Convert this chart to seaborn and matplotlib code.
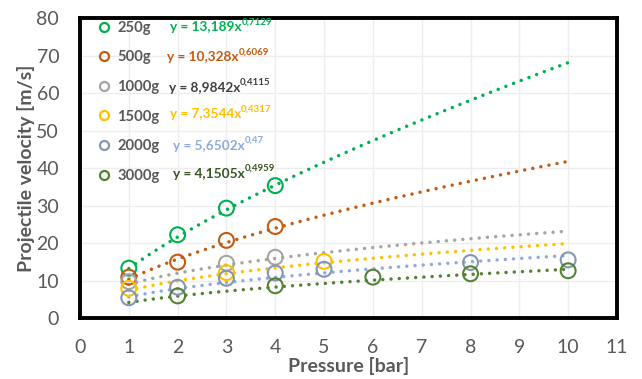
import numpy as np
import pandas as pd
import matplotlib
matplotlib.use("Agg")
import matplotlib.pyplot as plt
from matplotlib.lines import Line2D
import seaborn as sns

# ---- data ----
masses = ["250g", "500g", "1000g", "1500g", "2000g", "3000g"]
p_250 = [1, 2, 3, 4];            v_250 = [13.3, 22.2, 29.3, 35.3]
p_500 = [1, 2, 3, 4];            v_500 = [10.9, 14.9, 20.7, 24.4]
p_1000 = [1, 3, 4];              v_1000 = [9.7, 14.6, 16.2]
p_1500 = [1, 3, 5];              v_1500 = [7.9, 12.1, 15.1]
p_2000 = [1, 2, 3, 4, 5, 8, 10]; v_2000 = [5.4, 8.2, 10.6, 12.0, 13.0, 14.8, 15.5]
p_3000 = [2, 4, 6, 8, 10];       v_3000 = [5.9, 8.6, 10.9, 11.8, 12.6]
coef_a = [13.189, 10.328, 8.9842, 7.3544, 5.6502, 4.1505]
coef_b = [0.7129, 0.6069, 0.4115, 0.4317, 0.47, 0.4959]
eq_main = ["y = 13,189x", "y = 10,328x", "y = 8,9842x", "y = 7,3544x", "y = 5,6502x", "y = 4,1505x"]
eq_exp = ["0,7129", "0,6069", "0,4115", "0,4317", "0,47", "0,4959"]
x_ticks = list(range(0, 12))
y_ticks = list(range(0, 90, 10))

marker_colors = ["#00B050", "#C55A11", "#A5A5A5", "#FFC000", "#8497B0", "#548235"]
line_colors = ["#00B050", "#C55A11", "#A5A5A5", "#FFC000", "#8FAADC", "#548235"]
eq_colors = ["#00B050", "#C55A11", "#404040", "#FFC000", "#8FAADC", "#375623"]

pts = pd.concat([
    pd.DataFrame({"p": p, "v": v, "m": m})
    for p, v, m in zip([p_250, p_500, p_1000, p_1500, p_2000, p_3000],
                       [v_250, v_500, v_1000, v_1500, v_2000, v_3000], masses)
])
xs = np.linspace(1, 10, 200)
fits = pd.concat([
    pd.DataFrame({"p": xs, "v": a * xs ** b, "m": m})
    for a, b, m in zip(coef_a, coef_b, masses)
])

sns.set_theme(style="white")
plt.rcParams["font.family"] = ["Lato", "DejaVu Sans"]

fig = plt.figure(figsize=(6.42, 3.79), dpi=100)
ax = fig.add_axes([0.1246, 0.1609, 0.8364, 0.7916])

for m, lc in zip(masses, line_colors):
    sns.lineplot(data=fits[fits.m == m], x="p", y="v", ax=ax, color=lc,
                 lw=2.5, linestyle=(0, (0.01, 2.36)), dash_capstyle="round",
                 legend=False, zorder=2)
for m, mc in zip(masses, marker_colors):
    sns.scatterplot(data=pts[pts.m == m], x="p", y="v", ax=ax, s=115,
                    facecolor="none", edgecolor=mc, linewidth=1.5,
                    legend=False, zorder=3)

ax.set_xlim(0, 11)
ax.set_ylim(0, 80)
ax.set_xticks(x_ticks)
ax.set_yticks(y_ticks)
ax.grid(True, color="#EDEDED", lw=1)
ax.set_axisbelow(True)
for s in ax.spines.values():
    s.set_color("black")
    s.set_linewidth(2.8)
ax.tick_params(axis="both", direction="out", length=6, width=2.4, color="black",
               labelsize=14, labelcolor="#595959", pad=9)
ax.set_xlabel("Pressure [bar]", fontsize=14, fontweight="bold", color="#595959", labelpad=0.5)
ax.set_ylabel("Projectile velocity [m/s]", fontsize=14, fontweight="bold", color="#595959", labelpad=1)

handles = [Line2D([], [], marker="o", ls="none", markersize=6.5, markerfacecolor="none",
                  markeredgecolor=c, markeredgewidth=1.6) for c in marker_colors]
leg = ax.legend(handles, masses, loc="upper left", bbox_to_anchor=(0.004, 1.035),
                frameon=False, fontsize=10.6, labelspacing=1.06, handletextpad=0.3,
                handlelength=1.2)
for t in leg.get_texts():
    t.set_color("#595959")
    t.set_fontweight("bold")

eq_x = [1.84, 1.78, 1.82, 1.84, 1.90, 1.90]
eq_y = [77.5, 69.5, 61.4, 54.3, 45.8, 38.4]
for ex, ey, mt, et, c in zip(eq_x, eq_y, eq_main, eq_exp, eq_colors):
    t = ax.text(ex, ey, mt, color=c, fontsize=9.8, fontweight="bold",
                va="center", ha="left")
    ax.annotate(et, xy=(1, 0.6), xycoords=t, color=c, fontsize=7,
                fontweight="bold", va="bottom", ha="left")

fig.savefig("out.png", dpi=100)
